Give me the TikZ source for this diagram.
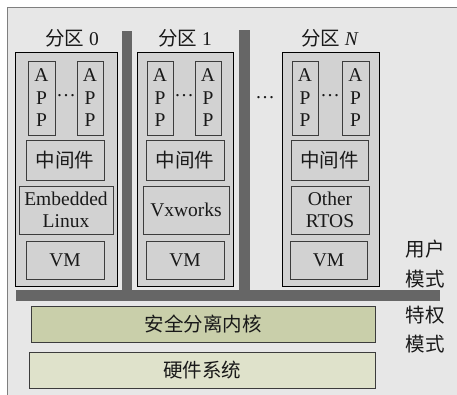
\documentclass[tikz,border=0pt]{standalone}
\usepackage{fontspec}
\setmainfont{Liberation Serif}
\newfontfamily\cjk{Noto Sans CJK SC}
\definecolor{bgray}{HTML}{E7E7E7}
\definecolor{boxgray}{HTML}{D2D2D2}
\definecolor{bargray}{HTML}{666666}
\definecolor{edge}{HTML}{3C3C3C}
\definecolor{frame}{HTML}{7F7F7F}
\definecolor{kernel}{HTML}{C9CFAA}
\definecolor{hw}{HTML}{DFE2CB}
\begin{document}
\begin{tikzpicture}[x=1pt,y=-1pt,
  every node/.style={font=\fontsize{19.5}{22.5}\selectfont, text=black!90},
  part/.style={draw=black, fill=boxgray, line width=0.7pt, inner sep=0pt},
  inbox/.style={draw=edge, fill=boxgray, line width=0.8pt, inner sep=0pt, align=center},
  layer/.style={draw=edge, line width=0.8pt, inner sep=0pt, align=center},
  bar/.style={fill=bargray, draw=none},
  lbl/.style={inner sep=0pt, align=center}]
\useasboundingbox (0,0) rectangle (457,395);
% background
\fill[bgray] (7,7) rectangle (457,395);
\draw[frame, line width=0.9pt] (7,395) -- (7,7) -- (457,7);
% bars
\fill[bar] (122,31) rectangle (132,291);
\fill[bar] (239,30) rectangle (250,291);
\fill[bar] (16,290) rectangle (440,301);
% partitions
\node[part, minimum width=102, minimum height=234] (p0) at (66,169) {};
\node[part, minimum width=96, minimum height=234] (p1) at (185,169) {};
\node[part, minimum width=97, minimum height=234] (pN) at (330.5,169) {};
% partition titles
\node[lbl] (t0) at (72,38) {{\cjk 分区} 0};
\node[lbl] (t1) at (185,38) {{\cjk 分区} 1};
\node[lbl] (tN) at (330,38) {{\cjk 分区} \textit{N}};
% APP boxes
\node[inbox, minimum width=27, minimum height=74] (a01) at (41.5,98) {A\\P\\P};
\node[inbox, minimum width=26, minimum height=74] (a02) at (90,98) {A\\P\\P};
\node[inbox, minimum width=26, minimum height=74] (a11) at (160,98) {A\\P\\P};
\node[inbox, minimum width=26, minimum height=74] (a12) at (208,98) {A\\P\\P};
\node[inbox, minimum width=26, minimum height=74] (aN1) at (305,98) {A\\P\\P};
\node[inbox, minimum width=27, minimum height=74] (aN2) at (355.5,98) {A\\P\\P};
\node[lbl] (d0) at (66,96) {…};
\node[lbl] (d1) at (184,96) {…};
\node[lbl] (dN) at (330,96) {…};
\node[lbl] (dm) at (265,98) {…};
% middleware
\node[inbox, minimum width=78, minimum height=40] (m0) at (65,160) {\cjk 中间件};
\node[inbox, minimum width=78, minimum height=40] (m1) at (185,160) {\cjk 中间件};
\node[inbox, minimum width=77, minimum height=40] (mN) at (329.5,160) {\cjk 中间件};
% OS
\node[inbox, minimum width=94, minimum height=48] (o0) at (66,210) {Embedded\\Linux};
\node[inbox, minimum width=86, minimum height=48] (o1) at (186,210) {Vxworks};
\node[inbox, minimum width=78, minimum height=48] (oN) at (330,210) {Other\\RTOS};
% VM
\node[inbox, minimum width=78, minimum height=38] (v0) at (65,260) {VM};
\node[inbox, minimum width=78, minimum height=38] (v1) at (185,260) {VM};
\node[inbox, minimum width=77, minimum height=38] (vN) at (328.5,260) {VM};
% kernel and hardware
\node[layer, fill=kernel, minimum width=344, minimum height=36] (k) at (203,324) {\cjk 安全分离内核};
\node[layer, fill=hw, minimum width=346, minimum height=36] (h) at (202,370) {\cjk 硬件系统};
% mode labels
\node[lbl, font=\fontsize{19.5}{30}\selectfont] (um) at (425,264) {\cjk 用户\\\cjk 模式};
\node[lbl, font=\fontsize{19.5}{29}\selectfont] (pm) at (425,330) {\cjk 特权\\\cjk 模式};
\end{tikzpicture}
\end{document}
